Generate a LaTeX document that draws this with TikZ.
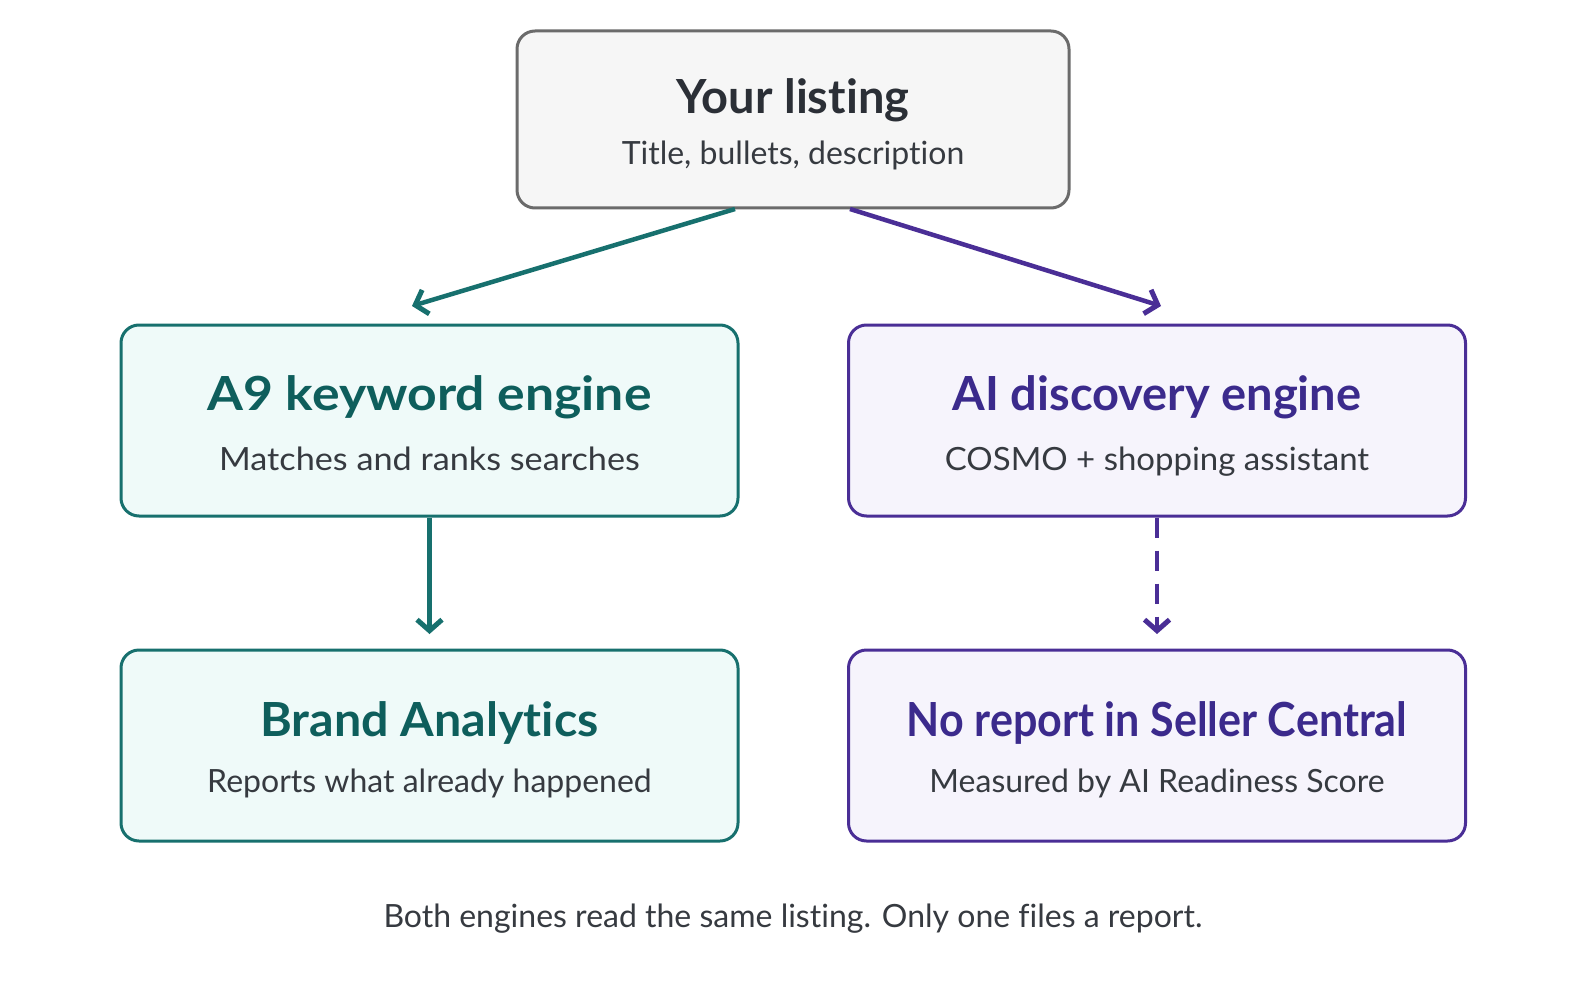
\documentclass[tikz,border=0pt]{standalone}
\usepackage{graphicx}
\usepackage{fontspec}
\setmainfont{Lato}[Ligatures=NoCommon]
\usetikzlibrary{arrows.meta}
\definecolor{tealline}{HTML}{17706E}
\definecolor{tealtext}{HTML}{0E5E5C}
\definecolor{tealfill}{HTML}{EFFAF9}
\definecolor{purpline}{HTML}{4A2E96}
\definecolor{purptext}{HTML}{3B2A8C}
\definecolor{purpfill}{HTML}{F6F4FC}
\definecolor{grayline}{HTML}{6B6B6B}
\definecolor{grayfill}{HTML}{F6F6F6}
\definecolor{darktext}{HTML}{2B2F36}
\definecolor{subtext}{HTML}{363A40}
\begin{document}
\begin{tikzpicture}[x=1pt,y=-1pt,
  box/.style={rectangle, rounded corners=18pt, line width=3pt, minimum width=617pt, minimum height=191pt, inner sep=0pt},
  topbox/.style={box, draw=grayline, fill=grayfill, minimum width=552pt, minimum height=177pt},
  tealbox/.style={box, draw=tealline, fill=tealfill},
  purpbox/.style={box, draw=purpline, fill=purpfill},
  ttl/.style={anchor=base, inner sep=0pt, font=\fontsize{47}{52}\selectfont\bfseries},
  sub/.style={anchor=base, inner sep=0pt, text=subtext, font=\fontsize{32}{38}\selectfont},
  conn/.style={line width=4.5pt, -{Straight Barb[length=11pt,width=25pt,line width=5pt]}},
]
\useasboundingbox[fill=white] (0,0) rectangle (1586,992);
% boxes
\node[topbox] (top) at (793,119.5) {};
\node[ttl, text=darktext] (toptitle) at (793,114) {Your listing};
\node[sub] (topsub) at (793,165) {Title, bullets, description};

\node[tealbox] (a9) at (429.5,420.5) {};
\node[ttl, text=tealtext] (a9title) at (429.5,410) {\scalebox{1.10}[1]{A9 keyword engine}};
\node[sub] (a9sub) at (429.5,470) {\scalebox{1.07}[1]{Matches and ranks searches}};

\node[purpbox] (ai) at (1157,420.5) {};
\node[ttl, text=purptext] (aititle) at (1157,410) {AI discovery engine};
\node[sub] (aisub) at (1157,470) {\scalebox{1.03}[1]{COSMO + shopping assistant}};

\node[tealbox] (br) at (429.5,745.5) {};
\node[ttl, text=tealtext] (brtitle) at (429.5,736) {\scalebox{1.03}[1]{Brand Analytics}};
\node[sub] (brsub) at (429.5,792) {Reports what already happened};

\node[purpbox] (no) at (1157,745.5) {};
\node[ttl, text=purptext] (notitle) at (1157,736) {\scalebox{0.916}[1]{No report in Seller Central}};
\node[sub] (nosub) at (1157,792) {Measured by AI Readiness Score};

\node[sub] (foot) at (793,927) {Both engines read the same listing. Only one files a report.};

% connectors
\coordinate (topL) at (735,209);
\coordinate (topR) at (850,209);
\coordinate (a9in) at (412,306);
\coordinate (aiin) at (1161,306);
\coordinate (brin) at (429.5,634);
\coordinate (noin) at (1157,634);
\draw[conn, draw=tealline] (topL) -- (a9in);
\draw[conn, draw=purpline] (topR) -- (aiin);
\draw[conn, draw=tealline] (a9.south) -- (brin);
\draw[conn, draw=purpline, dash pattern=on 20pt off 13pt] (ai.south) -- (noin);
\end{tikzpicture}
\end{document}
